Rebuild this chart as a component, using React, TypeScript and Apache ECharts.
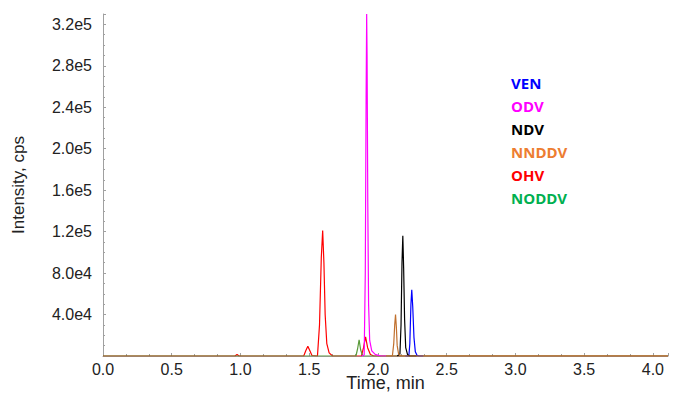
import React, { useEffect, useRef } from "react";
import * as echarts from "echarts";

// Legend order and colours
const legendNames = ["VEN", "ODV", "NDV", "NNDDV", "OHV", "NODDV"];
const legendColors = ["#0000FF", "#FF00FF", "#000000", "#ED7D31", "#FF0000", "#00B050"];

// Tick labels
const xTicks = [0, 0.5, 1, 1.5, 2, 2.5, 3, 3.5, 4];
const yTicks = [40000, 80000, 120000, 160000, 200000, 240000, 280000, 320000];

// Traces (time in min, intensity in cps)
const ohvTime = [0, 0.96, 0.975, 0.99, 1.46, 1.475, 1.49, 1.505, 1.52, 1.56, 1.575, 1.588, 1.598, 1.607, 1.616, 1.628, 1.645, 1.67, 1.88, 1.895, 1.91, 1.925, 1.945, 1.97, 4.11];
const ohvInt = [0, 0, 1500, 0, 0, 5000, 9500, 5000, 500, 0, 30000, 95000, 121000, 90000, 40000, 12000, 3000, 0, 0, 8000, 18500, 8000, 1500, 0, 0];

const noddvTime = [0, 1.84, 1.852, 1.863, 1.874, 1.888, 1.9, 4.11];
const noddvInt = [0, 0, 7000, 15700, 6000, 500, 0, 0];

const odvTime = [1.88, 1.9, 1.908, 1.914, 1.918, 1.921, 1.926, 1.932, 1.94, 1.955, 1.98, 2.02, 2.06];
const odvInt = [0, 1000, 80000, 250000, 330000, 290000, 150000, 50000, 15000, 5000, 1500, 0, 0];

const venTime = [2.2, 2.225, 2.232, 2.24, 2.246, 2.253, 2.262, 2.272, 2.285, 2.3, 2.33];
const venInt = [0, 0, 12000, 50000, 64000, 48000, 18000, 4000, 500, 0, 0];

const ndvTime = [2.14, 2.16, 2.168, 2.175, 2.181, 2.187, 2.194, 2.202, 2.215, 2.23, 2.28];
const ndvInt = [0, 2000, 30000, 90000, 116000, 85000, 35000, 8000, 1500, 0, 0];

const nnddvTime = [2.06, 2.105, 2.115, 2.122, 2.128, 2.134, 2.14, 2.15, 2.165, 4.11];
const nnddvInt = [0, 0, 12000, 30000, 40000, 28000, 10000, 2000, 0, 0];

const zip = (t: number[], v: number[]) => t.map((x, i) => [x, v[i]]);

export default function App() {
  const ref = useRef<HTMLDivElement>(null);
  useEffect(() => {
    if (!ref.current) return;
    const chart = echarts.init(ref.current, undefined, { renderer: "svg" });
    const mk = (name: string, t: number[], v: number[], color: string) => ({
      name,
      type: "line",
      data: zip(t, v),
      showSymbol: false,
      symbol: "none",
      lineStyle: { color, width: 1.2 },
      itemStyle: { color },
      clip: true,
    });
    const axisFont = { fontFamily: "Liberation Sans, Arial, sans-serif", fontSize: 16, color: "#222" };
    chart.setOption({
      animation: false,
      grid: { left: 103, right: 5, top: 14, bottom: 39, outerBoundsMode: "none", containLabel: false },
      xAxis: {
        type: "value",
        min: 0,
        max: 4.11,
        interval: 0.5,
        name: "Time, min",
        nameLocation: "middle",
        nameGap: 18,
        nameMoveOverlap: false,
        nameTextStyle: { ...axisFont, fontSize: 18, verticalAlign: "top" },
        axisLine: { lineStyle: { color: "#A0A0A0" } },
        axisTick: { inside: true, length: 3, lineStyle: { color: "#A0A0A0" } },
        minorTick: { show: true, splitNumber: 3, length: 2, lineStyle: { color: "#A0A0A0" } },
        splitLine: { show: false },
        axisLabel: {
          ...axisFont,
          margin: 5,
          showMaxLabel: false,
          formatter: (v: number) => (xTicks.some((t) => Math.abs(t - v) < 1e-6) ? v.toFixed(1) : ""),
        },
      },
      yAxis: {
        type: "value",
        min: 0,
        max: 330000,
        interval: 40000,
        name: "Intensity, cps",
        nameLocation: "middle",
        nameGap: 76,
        nameMoveOverlap: false,
        nameTextStyle: { ...axisFont, fontSize: 17 },
        axisLine: { show: true, lineStyle: { color: "#A0A0A0" } },
        axisTick: { show: true, inside: true, length: 3, lineStyle: { color: "#A0A0A0" } },
        minorTick: { show: true, splitNumber: 4, length: 2, lineStyle: { color: "#A0A0A0" } },
        splitLine: { show: false },
        axisLabel: {
          ...axisFont,
          margin: 11,
          showMaxLabel: false,
          formatter: (v: number) =>
            yTicks.indexOf(v) >= 0 ? v.toExponential(1).replace("e+", "e") : "",
        },
      },
      graphic: legendNames.map((n, i) => ({
        type: "text",
        left: 511,
        top: 75 + i * 23,
        style: {
          text: n,
          fill: legendColors[i],
          font: "bold 15px 'Open Sans', sans-serif",
        },
      })),
      series: [
        mk("OHV", ohvTime, ohvInt, "#FF0000"),
        mk("NODDV", noddvTime, noddvInt, "#5A9A3A"),
        mk("ODV", odvTime, odvInt, "#FF00FF"),
        mk("VEN", venTime, venInt, "#0000FF"),
        mk("NDV", ndvTime, ndvInt, "#000000"),
        mk("NNDDV", nnddvTime, nnddvInt, "#C0702E"),
      ],
    });
    return () => chart.dispose();
  }, []);
  return <div ref={ref} style={{ width: 673, height: 395, position: "absolute", left: 0, top: 0 }} />;
}
